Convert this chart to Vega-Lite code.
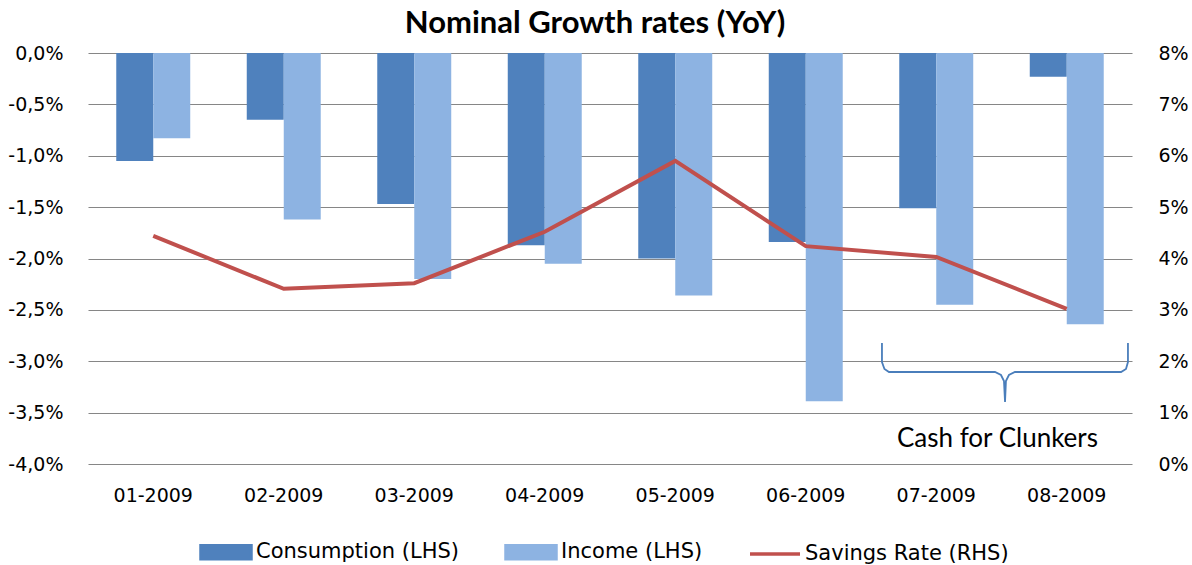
{
  "$schema": "https://vega.github.io/schema/vega-lite/v6.json",
  "autosize": {"type": "none"},
  "width": 1044,
  "height": 411,
  "padding": {"left": 88, "top": 53, "right": 60, "bottom": 101},
  "background": "white",
  "title": {
    "text": "Nominal Growth rates (YoY)",
    "font": "Lato",
    "fontSize": 31,
    "fontWeight": "bold",
    "color": "#000000",
    "anchor": "middle",
    "dx": -15,
    "offset": 4
  },
  "config": {
    "view": {"stroke": null},
    "axis": {"labelFont": "DejaVu Sans", "labelFontSize": 19, "labelColor": "#000000"}
  },
  "datasets": {
    "bars": [
      {"month": "01-2009", "series": "Consumption (LHS)", "value": -1.05},
      {"month": "01-2009", "series": "Income (LHS)", "value": -0.83},
      {"month": "02-2009", "series": "Consumption (LHS)", "value": -0.65},
      {"month": "02-2009", "series": "Income (LHS)", "value": -1.62},
      {"month": "03-2009", "series": "Consumption (LHS)", "value": -1.47},
      {"month": "03-2009", "series": "Income (LHS)", "value": -2.2},
      {"month": "04-2009", "series": "Consumption (LHS)", "value": -1.87},
      {"month": "04-2009", "series": "Income (LHS)", "value": -2.05},
      {"month": "05-2009", "series": "Consumption (LHS)", "value": -2.0},
      {"month": "05-2009", "series": "Income (LHS)", "value": -2.36},
      {"month": "06-2009", "series": "Consumption (LHS)", "value": -1.84},
      {"month": "06-2009", "series": "Income (LHS)", "value": -3.39},
      {"month": "07-2009", "series": "Consumption (LHS)", "value": -1.51},
      {"month": "07-2009", "series": "Income (LHS)", "value": -2.45},
      {"month": "08-2009", "series": "Consumption (LHS)", "value": -0.23},
      {"month": "08-2009", "series": "Income (LHS)", "value": -2.64}
    ],
    "savings": [
      {"month": "01-2009", "series": "Savings Rate (RHS)", "value": 4.44},
      {"month": "02-2009", "series": "Savings Rate (RHS)", "value": 3.41},
      {"month": "03-2009", "series": "Savings Rate (RHS)", "value": 3.52},
      {"month": "04-2009", "series": "Savings Rate (RHS)", "value": 4.52},
      {"month": "05-2009", "series": "Savings Rate (RHS)", "value": 5.9},
      {"month": "06-2009", "series": "Savings Rate (RHS)", "value": 4.24},
      {"month": "07-2009", "series": "Savings Rate (RHS)", "value": 4.03},
      {"month": "08-2009", "series": "Savings Rate (RHS)", "value": 3.02}
    ],
    "brace": [
      {"i": 1, "x": 6.084, "y": 2.355},
      {"i": 2, "x": 6.084, "y": 1.985},
      {"i": 3, "x": 6.103, "y": 1.849},
      {"i": 4, "x": 6.138, "y": 1.791},
      {"i": 5, "x": 6.95, "y": 1.791},
      {"i": 6, "x": 6.996, "y": 1.732},
      {"i": 7, "x": 7.019, "y": 1.616},
      {"i": 8, "x": 7.027, "y": 1.207},
      {"i": 9, "x": 7.034, "y": 1.616},
      {"i": 10, "x": 7.057, "y": 1.732},
      {"i": 11, "x": 7.103, "y": 1.791},
      {"i": 12, "x": 7.916, "y": 1.791},
      {"i": 13, "x": 7.954, "y": 1.849},
      {"i": 14, "x": 7.969, "y": 1.985},
      {"i": 15, "x": 7.969, "y": 2.355}
    ],
    "note": [
      {"x": 6.969, "y": 0.487, "label": "Cash for Clunkers"}
    ]
  },
  "layer": [
    {
      "data": {"name": "bars"},
      "mark": {"type": "bar"},
      "encoding": {
        "x": {
          "field": "month", "type": "nominal",
          "scale": {"domain": ["01-2009","02-2009","03-2009","04-2009","05-2009","06-2009","07-2009","08-2009"], "paddingInner": 0, "paddingOuter": 0},
          "axis": {"title": null, "domain": false, "ticks": false, "labelAngle": 0, "labelPadding": 22}
        },
        "xOffset": {
          "field": "series", "type": "nominal",
          "scale": {"domain": ["Consumption (LHS)", "Income (LHS)"], "paddingInner": 0, "paddingOuter": 0.764}
        },
        "y": {
          "field": "value", "type": "quantitative",
          "scale": {"domain": [-4, 0], "nice": false, "zero": false},
          "axis": {
            "title": null, "orient": "left", "domain": false, "ticks": false,
            "grid": true, "gridColor": "#868686", "gridWidth": 1.2,
            "values": [-4, -3.5, -3, -2.5, -2, -1.5, -1, -0.5, 0],
            "labelPadding": 25,
            "labelExpr": "replace(replace(format(datum.value, '.1f'), '.', ','), '\u2212', '-') + '%'"
          }
        },
        "color": {
          "field": "series", "type": "nominal",
          "scale": {
            "domain": ["Consumption (LHS)", "Income (LHS)", "Savings Rate (RHS)"],
            "range": ["#4F81BD", "#8DB3E2", "#C0504D"]
          },
          "legend": {
            "title": null,
            "orient": "none",
            "direction": "horizontal",
            "legendX": 111,
            "legendY": 472,
            "columns": 3,
            "columnPadding": 40,
            "padding": 0,
            "labelFont": "DejaVu Sans",
            "labelFontSize": 21,
            "labelColor": "#000000",
            "labelLimit": 0,
            "labelOffset": 3,
            "symbolSize": 2500,
            "symbolStrokeWidth": 3.5,
            "encode": {
              "symbols": {
                "update": {
                  "shape": {"signal": "datum.value === 'Savings Rate (RHS)' ? 'M-1,0H1' : 'M-1,-0.26H1V0.26H-1Z'"},
                  "fill": {"signal": "datum.value === 'Consumption (LHS)' ? '#4F81BD' : datum.value === 'Income (LHS)' ? '#8DB3E2' : 'transparent'"},
                  "stroke": {"signal": "datum.value === 'Savings Rate (RHS)' ? '#C0504D' : 'transparent'"},
                  "strokeWidth": {"value": 3.5},
                  "opacity": {"value": 1}
                }
              }
            }
          }
        }
      }
    },
    {
      "data": {"name": "savings"},
      "mark": {"type": "line", "strokeWidth": 4},
      "encoding": {
        "x": {
          "field": "month", "type": "nominal",
          "scale": {"domain": ["01-2009","02-2009","03-2009","04-2009","05-2009","06-2009","07-2009","08-2009"], "paddingInner": 0, "paddingOuter": 0},
          "axis": null
        },
        "y": {
          "field": "value", "type": "quantitative",
          "scale": {"domain": [0, 8], "nice": false},
          "axis": {
            "title": null, "orient": "right", "domain": false, "ticks": false, "grid": false,
            "values": [0, 1, 2, 3, 4, 5, 6, 7, 8],
            "labelPadding": 26,
            "labelExpr": "datum.value + '%'"
          }
        },
        "color": {
          "field": "series", "type": "nominal",
          "scale": {
            "domain": ["Consumption (LHS)", "Income (LHS)", "Savings Rate (RHS)"],
            "range": ["#4F81BD", "#8DB3E2", "#C0504D"]
          }
        }
      }
    },
    {
      "data": {"name": "brace"},
      "mark": {"type": "line", "stroke": "#4A7EBB", "strokeWidth": 1.8},
      "encoding": {
        "x": {"field": "x", "type": "quantitative", "scale": {"domain": [0, 8], "nice": false, "zero": false}, "axis": null},
        "y": {"field": "y", "type": "quantitative", "scale": {"domain": [0, 8], "nice": false}, "axis": null},
        "order": {"field": "i", "type": "quantitative"}
      }
    },
    {
      "data": {"name": "note"},
      "mark": {"type": "text", "font": "Lato", "fontSize": 26, "color": "#000000", "align": "center", "baseline": "middle"},
      "encoding": {
        "x": {"field": "x", "type": "quantitative", "scale": {"domain": [0, 8], "nice": false, "zero": false}, "axis": null},
        "y": {"field": "y", "type": "quantitative", "scale": {"domain": [0, 8], "nice": false}, "axis": null},
        "text": {"field": "label"}
      }
    }
  ],
  "resolve": {"scale": {"x": "independent", "y": "independent", "color": "shared"}}
}
